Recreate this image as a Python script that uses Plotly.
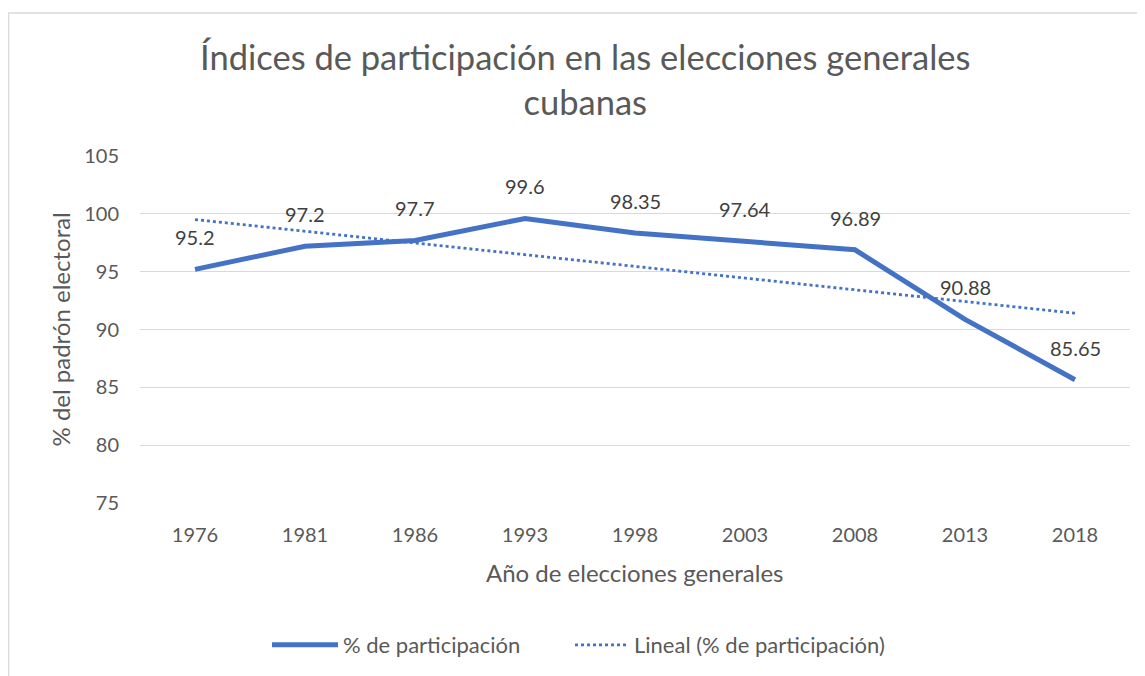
import numpy as np
import plotly.graph_objects as go

years = ["1976", "1981", "1986", "1993", "1998", "2003", "2008", "2013", "2018"]
participation = [95.2, 97.2, 97.7, 99.6, 98.35, 97.64, 96.89, 90.88, 85.65]
label_text = ["95.2", "97.2", "97.7", "99.6", "98.35", "97.64", "96.89", "90.88", "85.65"]
y_ticks = [75, 80, 85, 90, 95, 100, 105]

# Excel-style linear trendline (least squares on category index)
idx = np.arange(1, len(participation) + 1)
slope, intercept = np.polyfit(idx, participation, 1)
trend = slope * idx + intercept

FONT = "Lato"
BLUE = "#4472C4"
GREY = "#595959"

# page body has an 8px margin: lay the figure out 8px up/left
W, H = 1137, 668
PL, PR, PT, PB = 132, 1122, 148, 496  # plot area in figure px
PW, PH = PR - PL, PB - PT


def px(x):
    return (x - PL) / PW


def py(y):
    return (PB - y) / PH


fig = go.Figure()
fig.add_trace(go.Scatter(
    x=years, y=participation, mode="lines", name="% de participación",
    line=dict(color=BLUE, width=5), legend="legend",
))
fig.add_trace(go.Scatter(
    x=years, y=trend, mode="lines", name="Lineal (% de participación)",
    line=dict(color=BLUE, width=2.8, dash="dot"), legend="legend2",
))

for i, (v, t) in enumerate(zip(participation, label_text)):
    fig.add_annotation(x=i, y=v, text=t, showarrow=False, yshift=32,
                       font=dict(family=FONT, size=20, color="#404040"))

# title
fig.add_annotation(text="Índices de participación en las elecciones generales<br>cubanas",
                   xref="paper", yref="paper", x=px(577), y=py(71),
                   xanchor="center", yanchor="middle", showarrow=False,
                   font=dict(family=FONT, size=34.5, color=GREY))
# axis titles
fig.add_annotation(text="% del padrón electoral", xref="paper", yref="paper",
                   x=px(52), y=py(322), textangle=-90,
                   xanchor="center", yanchor="middle", showarrow=False,
                   font=dict(family=FONT, size=24, color=GREY))
fig.add_annotation(text="Año de elecciones generales", xref="paper", yref="paper",
                   x=px(627), y=py(566),
                   xanchor="center", yanchor="middle", showarrow=False,
                   font=dict(family=FONT, size=24, color=GREY))

# chart border
fig.add_shape(type="rect", xref="paper", yref="paper",
              x0=px(0.5), x1=px(W + 20), y0=py(H + 20), y1=py(4.5),
              line=dict(color="#D9D9D9", width=1.5), fillcolor="rgba(0,0,0,0)", layer="below")

legend_common = dict(orientation="h", yanchor="middle", xanchor="left",
                     font=dict(family=FONT, size=22, color=GREY),
                     bgcolor="rgba(0,0,0,0)")

fig.update_layout(
    width=W, height=H,
    margin=dict(l=PL, r=W - PR, t=PT, b=H - PB),
    paper_bgcolor="white", plot_bgcolor="white",
    font=dict(family=FONT, color=GREY),
    showlegend=True,
    legend=dict(x=px(259), y=py(637), itemwidth=66, **legend_common),
    legend2=dict(x=px(562), y=py(637), itemwidth=54, **legend_common),
)
fig.update_xaxes(type="category", range=[-0.5, 8.5], showgrid=False, showline=False,
                 ticks="", tickfont=dict(family=FONT, size=20, color=GREY),
                 ticklabelstandoff=18)
fig.update_yaxes(range=[75, 105], tickvals=y_ticks, showgrid=True, gridcolor="#D9D9D9",
                 gridwidth=1.3, zeroline=False, showline=False, ticks="",
                 tickfont=dict(family=FONT, size=20, color=GREY), ticklabelstandoff=20)

fig.write_html("out.html")
